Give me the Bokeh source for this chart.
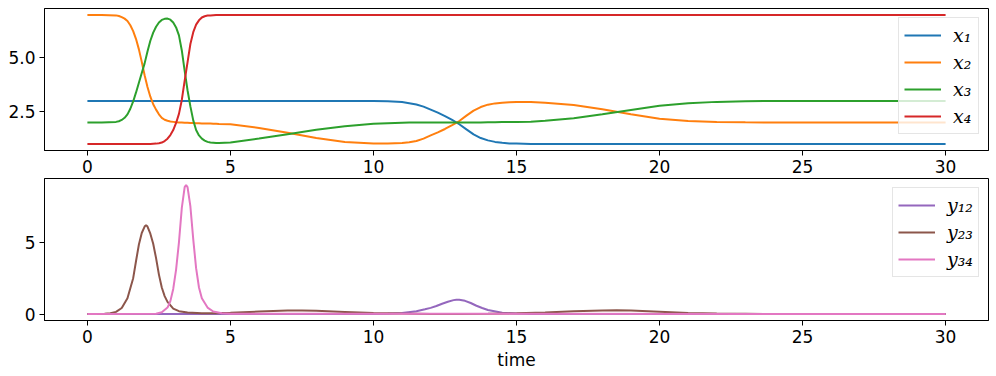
from bokeh.plotting import figure
from bokeh.layouts import column
from bokeh.models import Range1d, FixedTicker, PrintfTickFormatter
from bokeh.embed import file_html
from bokeh.resources import INLINE

# ---------------- data ----------------
t_top = [0, 0.5,
         1.0, 1.1, 1.2, 1.3, 1.4, 1.5, 1.6, 1.7, 1.8, 1.9,
         2.0, 2.1, 2.2, 2.3, 2.4, 2.5, 2.6, 2.7, 2.8, 2.9,
         3.0, 3.1, 3.2, 3.3, 3.4, 3.5, 3.6, 3.7, 3.8, 3.9,
         4.0, 4.1, 4.2, 4.3, 4.4, 4.5, 4.6,
         5.0, 6.0, 7.0, 8.0, 9.0, 10.0, 10.5,
         11.0, 11.25, 11.5, 11.75, 12.0, 12.25, 12.5, 12.75,
         13.0, 13.25, 13.5, 13.75, 14.0, 14.25, 14.5, 14.75,
         15.0, 15.5, 16.0, 17.0, 18.0, 19.0, 20.0, 21.0, 22.0, 23.0, 24.0, 25.0, 30.0]

x1 = [3.0, 3.0,
      3.0, 3.0, 3.0, 3.0, 3.0, 3.0, 3.0, 3.0, 3.0, 3.0,
      3.0, 3.0, 3.0, 3.0, 3.0, 3.0, 3.0, 3.0, 3.0, 3.0,
      3.0, 3.0, 3.0, 3.0, 3.0, 3.0, 3.0, 3.0, 3.0, 3.0,
      3.0, 3.0, 3.0, 3.0, 3.0, 3.0, 3.0,
      3.0, 3.0, 3.0, 3.0, 3.0, 3.0, 2.99,
      2.95, 2.9, 2.84, 2.74, 2.6, 2.46, 2.3, 2.12,
      1.92, 1.68, 1.45, 1.28, 1.17, 1.1, 1.06, 1.03,
      1.02, 1.0, 1.0, 1.0, 1.0, 1.0, 1.0, 1.0, 1.0, 1.0, 1.0, 1.0, 1.0]

x2 = [7.0, 7.0,
      6.98, 6.95, 6.9, 6.83, 6.72, 6.52, 6.25, 5.88, 5.4, 4.82,
      4.2, 3.65, 3.2, 2.85, 2.6, 2.38, 2.22, 2.13, 2.08, 2.05,
      2.03, 2.01, 2.0, 2.0, 1.99, 1.99, 1.98, 1.98, 1.97, 1.97,
      1.96, 1.96, 1.95, 1.95, 1.94, 1.94, 1.93,
      1.92, 1.75, 1.53, 1.28, 1.1, 1.03, 1.03,
      1.05, 1.08, 1.14, 1.25, 1.4, 1.54, 1.7, 1.88,
      2.07, 2.32, 2.55, 2.72, 2.83, 2.89, 2.92, 2.94,
      2.95, 2.95, 2.92, 2.82, 2.62, 2.38, 2.18, 2.07, 2.03, 2.01, 2.0, 2.0, 2.0]

x3 = [2.0, 2.0,
      2.03, 2.06, 2.12, 2.22, 2.38, 2.64, 2.98, 3.4, 3.85, 4.3,
      4.75, 5.3, 5.8, 6.18, 6.45, 6.65, 6.77, 6.82, 6.83, 6.78,
      6.65, 6.42, 6.05, 5.35, 4.4, 3.5, 2.75, 2.1, 1.65, 1.4,
      1.25, 1.16, 1.1, 1.07, 1.06, 1.05, 1.05,
      1.07, 1.26, 1.46, 1.66, 1.83, 1.94, 1.97,
      1.99, 2.0, 2.0, 2.0, 2.0, 2.0, 2.0, 2.0,
      2.0, 2.0, 2.0, 2.0, 2.01, 2.01, 2.02, 2.02,
      2.03, 2.04, 2.08, 2.2, 2.38, 2.58, 2.78, 2.9, 2.96, 2.99, 3.0, 3.0, 3.0]

x4 = [1.0, 1.0,
      1.0, 1.0, 1.0, 1.0, 1.0, 1.0, 1.0, 1.0, 1.0, 1.0,
      1.0, 1.0, 1.0, 1.01, 1.02, 1.04, 1.07, 1.14, 1.25, 1.42,
      1.65, 1.98, 2.4, 3.05, 3.95, 4.8, 5.65, 6.2, 6.55, 6.75,
      6.88, 6.94, 6.97, 6.98, 6.99, 7.0, 7.0,
      7.0, 7.0, 7.0, 7.0, 7.0, 7.0, 7.0,
      7.0, 7.0, 7.0, 7.0, 7.0, 7.0, 7.0, 7.0,
      7.0, 7.0, 7.0, 7.0, 7.0, 7.0, 7.0, 7.0,
      7.0, 7.0, 7.0, 7.0, 7.0, 7.0, 7.0, 7.0, 7.0, 7.0, 7.0, 7.0, 7.0]

t_y12 = [0, 10.0, 10.5, 11.0, 11.5, 11.8, 12.0, 12.2, 12.4, 12.6, 12.8, 12.9, 13.0,
         13.2, 13.4, 13.6, 13.8, 14.0, 14.5, 15.0, 15.5, 16.0, 30.0]
y12 = [0, 0.0, 0.02, 0.07, 0.2, 0.33, 0.43, 0.56, 0.72, 0.86, 0.97, 1.0, 0.99,
       0.92, 0.77, 0.58, 0.42, 0.28, 0.09, 0.03, 0.01, 0.0, 0.0]

t_y23 = [0, 0.6, 0.8, 1.0, 1.2, 1.4, 1.6, 1.7, 1.8, 1.9, 2.0, 2.05, 2.1, 2.2, 2.3, 2.4,
         2.5, 2.6, 2.7, 2.8, 3.0, 3.2, 3.5, 4.0, 4.5, 5.0, 6.0, 7.0, 7.5, 8.0, 9.0,
         10.0, 11.0, 12.0, 13.0, 14.0, 15.0, 16.0, 17.0, 18.0, 18.5, 19.0, 20.0,
         21.0, 22.0, 23.0, 24.0, 30.0]
y23 = [0, 0.02, 0.06, 0.15, 0.42, 1.1, 2.5, 3.7, 4.85, 5.65, 6.1, 6.2, 6.1, 5.6, 4.9, 3.9,
       2.75, 1.85, 1.25, 0.85, 0.38, 0.2, 0.1, 0.06, 0.06, 0.09, 0.17, 0.24, 0.25, 0.23, 0.15,
       0.07, 0.03, 0.01, 0.01, 0.02, 0.05, 0.11, 0.19, 0.25, 0.26, 0.24, 0.16,
       0.08, 0.04, 0.02, 0.0, 0.0]

t_y34 = [0, 2.4, 2.6, 2.8, 2.9, 3.0, 3.1, 3.2, 3.3, 3.4, 3.45, 3.5, 3.6, 3.7, 3.8,
         3.9, 4.0, 4.2, 4.4, 4.7, 5.0, 30.0]
y34 = [0, 0.02, 0.12, 0.45, 0.9, 1.75, 3.1, 5.0, 7.4, 8.85, 9.0, 8.85, 7.5, 5.2, 3.2,
       1.85, 1.1, 0.45, 0.18, 0.06, 0.02, 0.0]

x_ticks = [0, 5, 10, 15, 20, 25, 30]
top_y_ticks = [2.5, 5.0]
bot_y_ticks = [0, 5]

top_labels = ["x\u2081", "x\u2082", "x\u2083", "x\u2084"]
bot_labels = ["y\u2081\u2082", "y\u2082\u2083", "y\u2083\u2084"]

top_colors = ["#1f77b4", "#ff7f0e", "#2ca02c", "#d62728"]
bot_colors = ["#9467bd", "#8c564b", "#e377c2"]

FONT = "DejaVu Sans"


def style(p):
    p.xgrid.visible = False
    p.ygrid.visible = False
    p.outline_line_color = "black"
    p.outline_line_width = 1
    p.background_fill_color = "white"
    p.border_fill_color = "white"
    for ax in (p.xaxis[0], p.yaxis[0]):
        ax.axis_line_color = "black"
        ax.major_tick_line_color = "black"
        ax.major_tick_out = 5
        ax.major_tick_in = 0
        ax.minor_tick_line_color = None
        ax.major_label_text_font = FONT
        ax.major_label_text_font_size = "17px"
        ax.major_label_text_color = "black"
        ax.major_label_standoff = 4
    p.xaxis[0].ticker = FixedTicker(ticks=x_ticks)


def style_legend(p, label_w):
    lg = p.legend[0]
    lg.location = "top_right"
    lg.margin = 9
    lg.padding = 5
    lg.spacing = 3
    lg.glyph_width = 37
    lg.glyph_height = 24
    lg.label_height = 24
    lg.label_standoff = 12
    lg.label_width = label_w
    lg.label_text_font = "DejaVu Serif"
    lg.label_text_font_style = "italic"
    lg.label_text_font_size = "19px"
    lg.label_text_color = "black"
    lg.border_line_color = "#cccccc"
    lg.border_line_width = 1
    lg.background_fill_color = "white"
    lg.background_fill_alpha = 0.8


# ---------------- top panel ----------------
p1 = figure(width=996, height=178, output_backend="svg", toolbar_location=None,
            x_range=Range1d(-1.5, 31.5), y_range=Range1d(0.7, 7.3),
            min_border_left=44, min_border_right=8, min_border_top=8, min_border_bottom=28)
style(p1)
p1.yaxis[0].ticker = FixedTicker(ticks=top_y_ticks)
p1.yaxis[0].formatter = PrintfTickFormatter(format="%.1f")
for ys, lab, col in zip([x1, x2, x3, x4], top_labels, top_colors):
    p1.line(t_top, ys, line_color=col, line_width=2, legend_label=lab)
style_legend(p1, 20)

# ---------------- bottom panel ----------------
p2 = figure(width=996, height=198, output_backend="svg", toolbar_location=None,
            x_range=p1.x_range, y_range=Range1d(-0.45, 9.45),
            min_border_left=44, min_border_right=8, min_border_top=0, min_border_bottom=56)
style(p2)
p2.yaxis[0].ticker = FixedTicker(ticks=bot_y_ticks)
p2.xaxis[0].axis_label = "time"
p2.xaxis[0].axis_label_text_font = FONT
p2.xaxis[0].axis_label_text_font_size = "17px"
p2.xaxis[0].axis_label_text_font_style = "normal"
p2.xaxis[0].axis_label_text_color = "black"
p2.xaxis[0].axis_label_standoff = 4
for ts, ys, lab, col in zip([t_y12, t_y23, t_y34], [y12, y23, y34], bot_labels, bot_colors):
    p2.line(ts, ys, line_color=col, line_width=2, legend_label=lab)
style_legend(p2, 26)

layout = column(p1, p2, spacing=0)
open("out.html", "w").write(file_html(layout, INLINE))
